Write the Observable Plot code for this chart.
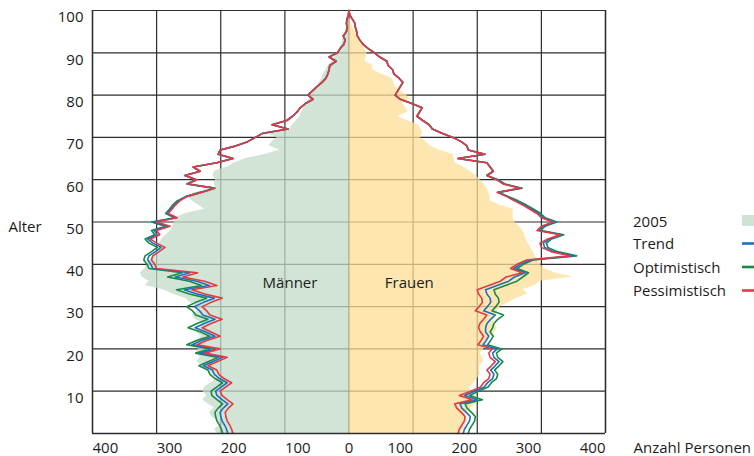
<!DOCTYPE html>
<html><head><meta charset="utf-8">
<script src="https://cdn.jsdelivr.net/npm/d3@7"></script>
<script src="https://cdn.jsdelivr.net/npm/@observablehq/plot@0.6"></script>
<style>body{margin:0;background:#fff;} svg{display:block}</style>
</head><body><div id="chart"></div>
<script>
// Ages 0..100
const ages = d3.range(0, 101);

// 2005 population (thousands) by age
const men2005 = [205,210,200,205,215,217,210,220,228,222,
 228,225,215,205,215,222,230,237,232,238,
 235,240,237,230,238,232,228,240,245,235,
 240,248,255,275,290,318,312,323,325,318,
 315,310,305,300,298,295,292,285,278,275,
 272,270,255,225,235,245,250,240,208,210,
 208,212,210,190,178,160,130,108,125,120,
 112,128,92,88,82,76,74,70,66,62,
 60,55,50,46,42,40,36,32,26,22,
 16,14,12,10,8,6,4,2,1,0,0];
const women2005 = [175,178,182,185,180,184,190,198,204,195,
 190,189,195,200,205,204,204,210,208,205,
 210,209,215,222,228,231,225,225,230,232,
 236,250,262,279,271,290,298,349,320,305,
 298,295,290,287,283,279,276,274,271,265,
 258,256,256,256,235,220,220,218,215,210,
 204,198,189,178,165,164,162,140,126,120,
 111,115,112,108,90,76,92,88,84,95,
 90,80,72,70,67,50,37,37,25,27,
 28,24,22,16,14,10,6,4,1,0,0];

// Projections, men
const menPessimistisch = [181,183,186,190,192,193,188,181,190,198,
 201,192,183,195,203,206,220,205,190,225,
 201,237,222,201,215,229,215,198,217,222,
 229,215,198,225,245,206,225,259,236,300,
 303,308,306,296,287,300,310,295,300,279,
 300,268,282,276,271,264,253,230,209,251,
 237,256,232,243,206,181,204,201,176,158,
 146,134,95,120,97,88,81,76,68,56,
 64,57,50,42,36,33,31,30,20,31,
 18,14,8,6,9,4,3,4,3,1,0];
const menTrend = [189,191,194,198,200,201,196,189,198,206,
 208,199,190,202,210,213,227,212,197,232,
 209,245,230,209,223,240,226,209,228,233,
 241,227,210,237,257,218,237,271,248,306,
 309,314,312,302,293,306,314,299,304,283,
 304,270,284,278,273,266,254,231,210,252,
 238,256,232,243,206,181,204,201,176,158,
 146,134,95,120,97,88,81,76,68,56,
 64,57,50,42,36,33,31,30,20,31,
 18,14,8,6,9,4,3,4,3,1,0];
const menOptimistisch = [197,199,202,206,208,209,204,197,206,214,
 215,206,197,209,217,220,234,219,204,239,
 217,253,238,217,231,251,237,220,239,244,
 253,239,222,249,269,230,249,283,260,312,
 315,320,318,308,299,312,318,303,308,287,
 308,272,286,280,275,268,255,232,211,253,
 239,256,232,243,206,181,204,201,176,158,
 146,134,95,120,97,88,81,76,68,56,
 64,57,50,42,36,33,31,30,20,31,
 18,14,8,6,9,4,3,4,3,1,0];

// Projections, women
const womenPessimistisch = [170,172,176,180,181,175,168,165,192,172,
 190,205,210,218,220,215,222,228,220,218,
 223,201,206,210,205,202,204,210,215,197,
 203,208,207,202,200,218,236,245,270,252,
 262,277,345,315,300,298,310,329,293,300,
 318,300,293,282,271,258,246,231,267,240,
 230,215,225,220,215,170,212,186,184,175,
 162,145,130,125,115,106,110,114,98,80,
 72,76,80,84,78,70,68,61,59,48,
 40,30,22,17,13,12,10,9,5,1,0];
const womenTrend = [178,180,184,188,189,183,176,173,200,180,
 196,211,216,224,226,221,228,234,226,224,
 231,209,214,218,213,213,215,221,228,210,
 216,221,220,215,213,231,249,258,275,257,
 267,282,350,320,305,303,313,332,296,303,
 321,303,296,285,274,261,247,232,268,241,
 231,215,225,220,215,170,212,186,184,175,
 162,145,130,125,115,106,110,114,98,80,
 72,76,80,84,78,70,68,61,59,48,
 40,30,22,17,13,12,10,9,5,1,0];
const womenOptimistisch = [186,188,192,196,197,191,184,181,208,188,
 202,217,222,230,232,227,234,240,232,230,
 238,216,221,225,220,224,226,232,241,223,
 229,234,233,228,226,244,262,271,280,262,
 272,287,355,325,310,308,316,335,299,306,
 324,306,299,288,277,264,249,234,270,243,
 233,215,225,220,215,170,212,186,184,175,
 162,145,130,125,115,106,110,114,98,80,
 72,76,80,84,78,70,68,61,59,48,
 40,30,22,17,13,12,10,9,5,1,0];

const xTicks = [-400,-300,-200,-100,0,100,200,300,400];
const yTicks = [10,20,30,40,50,60,70,80,90,100];
const legendLabels = ["2005","Trend","Optimistisch","Pessimistisch"];
const scenarioNames = ["Optimistisch","Trend","Pessimistisch"];
const scenarioColors = {"Trend":"#1f6fc0","Optimistisch":"#178a45","Pessimistisch":"#e23a42"};

const rows = ages.map((a, i) => ({
  age: a, m05: men2005[i], f05: women2005[i],
  mTrend: menTrend[i], mOptimistisch: menOptimistisch[i], mPessimistisch: menPessimistisch[i],
  fTrend: womenTrend[i], fOptimistisch: womenOptimistisch[i], fPessimistisch: womenPessimistisch[i]
}));

const FONT = "'Open Sans', 'Noto Sans', sans-serif";
const TXT = "#1c1c1c";
const GRID = "#2d2d2d";

const lineMarks = [];
for (const s of scenarioNames) {
  lineMarks.push(Plot.lineX(rows, {y: "age", x: d => -d["m" + s], stroke: scenarioColors[s], strokeWidth: 1.6}));
  lineMarks.push(Plot.lineX(rows, {y: "age", x: d => d["f" + s], stroke: scenarioColors[s], strokeWidth: 1.6}));
}

const plot = Plot.plot({
  width: 754, height: 456,
  marginLeft: 92, marginRight: 149, marginTop: 10, marginBottom: 23,
  x: {domain: [-400, 400], axis: null},
  y: {domain: [0, 100], axis: null},
  style: {fontFamily: FONT, fontSize: "15px", color: TXT, background: "white", overflow: "visible"},
  marks: [
    Plot.ruleX(xTicks, {stroke: GRID, strokeWidth: 1.2}),
    Plot.ruleY(yTicks, {stroke: GRID, strokeWidth: 1.2}),
    Plot.areaX(rows, {y: "age", x1: 0, x2: d => -d.m05, fill: "#c3dbc8", fillOpacity: 0.75}),
    Plot.areaX(rows, {y: "age", x1: 0, x2: "f05", fill: "#fcde96", fillOpacity: 0.75}),
    ...lineMarks,
    Plot.ruleY([0], {stroke: GRID, strokeWidth: 1.4}),
    Plot.ruleX([-400, 400], {stroke: GRID, strokeWidth: 1.4}),
    // y tick labels
    Plot.text(yTicks, {x: -400, y: d => d, text: d => String(d), textAnchor: "end", dx: -9, dy: 7, fontSize: 15, fill: TXT}),
    // x tick labels
    Plot.text(xTicks.filter(d => d < 0), {x: d => d, y: 0, text: d => String(Math.abs(d)), textAnchor: "start", dy: 15, fontSize: 15, fill: TXT}),
    Plot.text(xTicks.filter(d => d === 0), {x: d => d, y: 0, text: d => String(d), textAnchor: "middle", dy: 15, fontSize: 15, fill: TXT}),
    Plot.text(xTicks.filter(d => d > 0), {x: d => d, y: 0, text: d => String(d), textAnchor: "end", dy: 15, fontSize: 15, fill: TXT}),
    Plot.text(["Männer"], {x: -92, y: 35.5, text: d => d, textAnchor: "middle", fontSize: 15, fill: TXT}),
    Plot.text(["Frauen"], {x: 94, y: 35.5, text: d => d, textAnchor: "middle", fontSize: 15, fill: TXT}),
    Plot.text(["Alter"], {x: -400, y: 50, text: d => d, textAnchor: "start", dx: -84, dy: 5.5, fontSize: 15, fill: TXT}),
    Plot.text(["Anzahl Personen"], {x: 400, y: 0, text: d => d, textAnchor: "start", dx: 28, dy: 15, fontSize: 15, fill: TXT})
  ]
});

// Legend (outside the plot frame, right side)
const svg = d3.select(plot);
const lg = svg.append("g").attr("font-family", FONT).attr("font-size", 15).attr("fill", TXT).attr("text-anchor", "start");
const baselines = [226.5, 249, 272.5, 296];
legendLabels.forEach((lab, i) => {
  lg.append("text").attr("x", 633).attr("y", baselines[i]).attr("text-anchor", "start").text(lab);
  if (lab === "2005") {
    lg.append("rect").attr("x", 742).attr("y", 215).attr("width", 14).attr("height", 11).attr("fill", "#cfe2d3");
  } else {
    lg.append("line").attr("x1", 742).attr("x2", 760).attr("y1", baselines[i] - 5.5).attr("y2", baselines[i] - 5.5)
      .attr("stroke", scenarioColors[lab]).attr("stroke-width", 2.6);
  }
});

document.getElementById("chart").appendChild(plot);
</script>
</body></html>
